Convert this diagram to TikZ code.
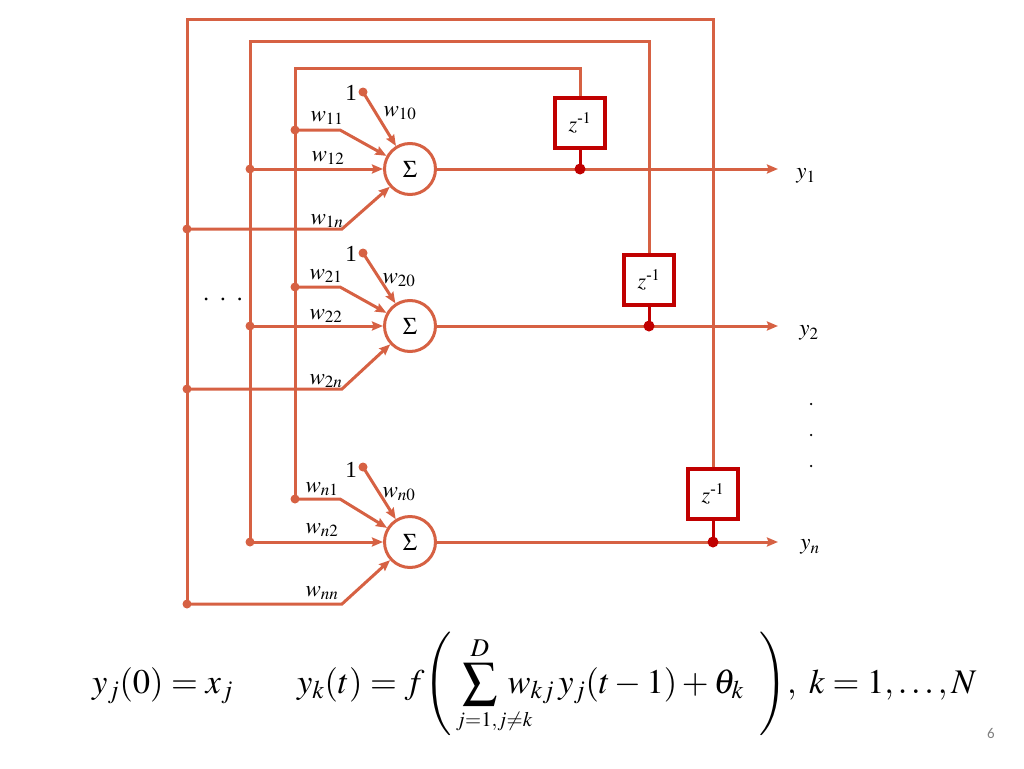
\documentclass[tikz,border=0pt]{standalone}
\usepackage{amsmath}
\usepackage{mathtools}
\usepackage{mathptmx}
\usepackage{fontspec}
\setmainfont{Liberation Serif}
\newfontfamily\carlito{Carlito}
\usetikzlibrary{arrows.meta}
\definecolor{coral}{RGB}{214,97,67}
\definecolor{dred}{RGB}{192,0,0}
\tikzset{
  wire/.style={draw=coral, line width=3pt},
  arr/.style={wire, -{Stealth[length=11pt,width=9pt,inset=1.5pt]}},
  fbwire/.style={draw=dred, line width=3pt},
  sumnode/.style={circle, draw=coral, line width=3pt, minimum size=51pt, inner sep=0pt, fill=white, font=\fontsize{24}{28}\selectfont},
  zbox/.style={rectangle, draw=dred, line width=3.5pt, minimum size=50pt, inner sep=0pt, fill=white, font=\fontsize{22}{26}\selectfont},
  jdot/.style={circle, fill=coral, minimum size=9pt, inner sep=0pt},
  rdot/.style={circle, fill=dred, minimum size=11pt, inner sep=0pt},
  vdot/.style={circle, fill=black, minimum size=2.5pt, inner sep=0pt},
  lab/.style={inner sep=0pt, font=\fontsize{23}{27}\selectfont},
}
\begin{document}
\begin{tikzpicture}[x=1pt,y=-1pt]
\useasboundingbox (0,0) rectangle (1024,768);
% neurons and delay boxes
\node[sumnode] (s1) at (410,169) {$\Sigma$};
\node[sumnode] (s2) at (410,326) {$\Sigma$};
\node[sumnode] (s3) at (410,542) {$\Sigma$};
\node[zbox] (z1) at (580,123) {$z^{\text{-}1}$};
\node[zbox] (z2) at (649,280) {$z^{\text{-}1}$};
\node[zbox] (z3) at (713,494) {$z^{\text{-}1}$};
% coordinates
\coordinate (c1) at (187,20);
\coordinate (c2) at (250,42);
\coordinate (c3) at (295,68);
\coordinate (d11) at (295,130);
\coordinate (k11) at (340,130);
\coordinate (d12) at (250,169);
\coordinate (d1n) at (187,229);
\coordinate (k1n) at (342,229);
\coordinate (b1) at (363,92);
\coordinate (d21) at (295,287);
\coordinate (k21) at (340,287);
\coordinate (d22) at (250,326);
\coordinate (d2n) at (187,389);
\coordinate (k2n) at (342,389);
\coordinate (b2) at (363,253);
\coordinate (dn1) at (295,499);
\coordinate (kn1) at (340,499);
\coordinate (dn2) at (250,542);
\coordinate (dnn) at (187,604);
\coordinate (knn) at (342,604);
\coordinate (b3) at (363,467);
\coordinate (o1) at (778,169);
\coordinate (o2) at (778,326);
\coordinate (o3) at (778,542);
\coordinate (j1) at (580,169);
\coordinate (j2) at (649,326);
\coordinate (j3) at (713,542);
% feedback buses
\draw[wire] (z3.north) |- (c1) -- (dnn);
\draw[wire] (z2.north) |- (c2) -- (dn2);
\draw[wire] (z1.north) |- (c3) -- (dn1);
% inputs neuron 1
\draw[arr] (d11) -- (k11) -- (s1);
\draw[arr] (d12) -- (s1);
\draw[arr] (d1n) -- (k1n) -- (s1);
\draw[arr] (b1) -- (s1);
% inputs neuron 2
\draw[arr] (d21) -- (k21) -- (s2);
\draw[arr] (d22) -- (s2);
\draw[arr] (d2n) -- (k2n) -- (s2);
\draw[arr] (b2) -- (s2);
% inputs neuron n
\draw[arr] (dn1) -- (kn1) -- (s3);
\draw[arr] (dn2) -- (s3);
\draw[arr] (dnn) -- (knn) -- (s3);
\draw[arr] (b3) -- (s3);
% outputs
\draw[arr] (s1) -- (o1);
\draw[arr] (s2) -- (o2);
\draw[arr] (s3) -- (o3);
\draw[fbwire] (z1.south) -- (j1);
\draw[fbwire] (z2.south) -- (j2);
\draw[fbwire] (z3.south) -- (j3);
% dots
\foreach \p in {d11,d12,d1n,b1,d21,d22,d2n,b2,dn1,dn2,dnn,b3}
  \node[jdot] (\p dot) at (\p) {};
\foreach \p in {j1,j2,j3}
  \node[rdot] (\p dot) at (\p) {};
% labels
\node[lab] (l11) at (327,118) {$w_{11}$};
\node[lab] (l12) at (328,158) {$w_{12}$};
\node[lab] (l1n) at (327,221) {$w_{1n}$};
\node[lab] (l10) at (400,113) {$w_{10}$};
\node[lab] (one1) at (351,93) {1};
\node[lab] (l21) at (326,276) {$w_{21}$};
\node[lab] (l22) at (326,316) {$w_{22}$};
\node[lab] (l2n) at (326,381) {$w_{2n}$};
\node[lab] (l20) at (399,280) {$w_{20}$};
\node[lab] (one2) at (351,254) {1};
\node[lab] (ln1) at (322,489) {$w_{n1}$};
\node[lab] (ln2) at (322,530) {$w_{n2}$};
\node[lab] (lnn) at (322,593) {$w_{nn}$};
\node[lab] (ln0) at (399,494) {$w_{n0}$};
\node[lab] (one3) at (351,470) {1};
\node[lab] (y1) at (806,176) {$y_1$};
\node[lab] (y2) at (809,333) {$y_2$};
\node[lab] (yn) at (810,547) {$y_n$};
% ellipses
\node[lab] (hd) at (223,299) {.\hspace{11pt}.\hspace{11pt}.};
\node[vdot] (v1) at (811,404) {};
\node[vdot] (v2) at (811,435) {};
\node[vdot] (v3) at (811,466) {};
% equation
\node[anchor=base west, inner sep=0pt] (eq) at (92,693) {\fontsize{34.5}{40}\selectfont $\displaystyle y_j(0)=x_j\hspace{64pt}y_k(t)=f\!\left(\hspace{4pt}\sum_{\makebox[48pt][l]{$\scriptscriptstyle j=1,j\neq k$}}^{D}w_{kj}\,y_j(t-1)+\theta_k\hspace{16pt}\right)\!,\ k=1,\ldots,N$};
\node[font=\fontsize{15}{17}\selectfont\carlito, text=gray, inner sep=0pt] (pg) at (991,733) {6};
\end{tikzpicture}
\end{document}
